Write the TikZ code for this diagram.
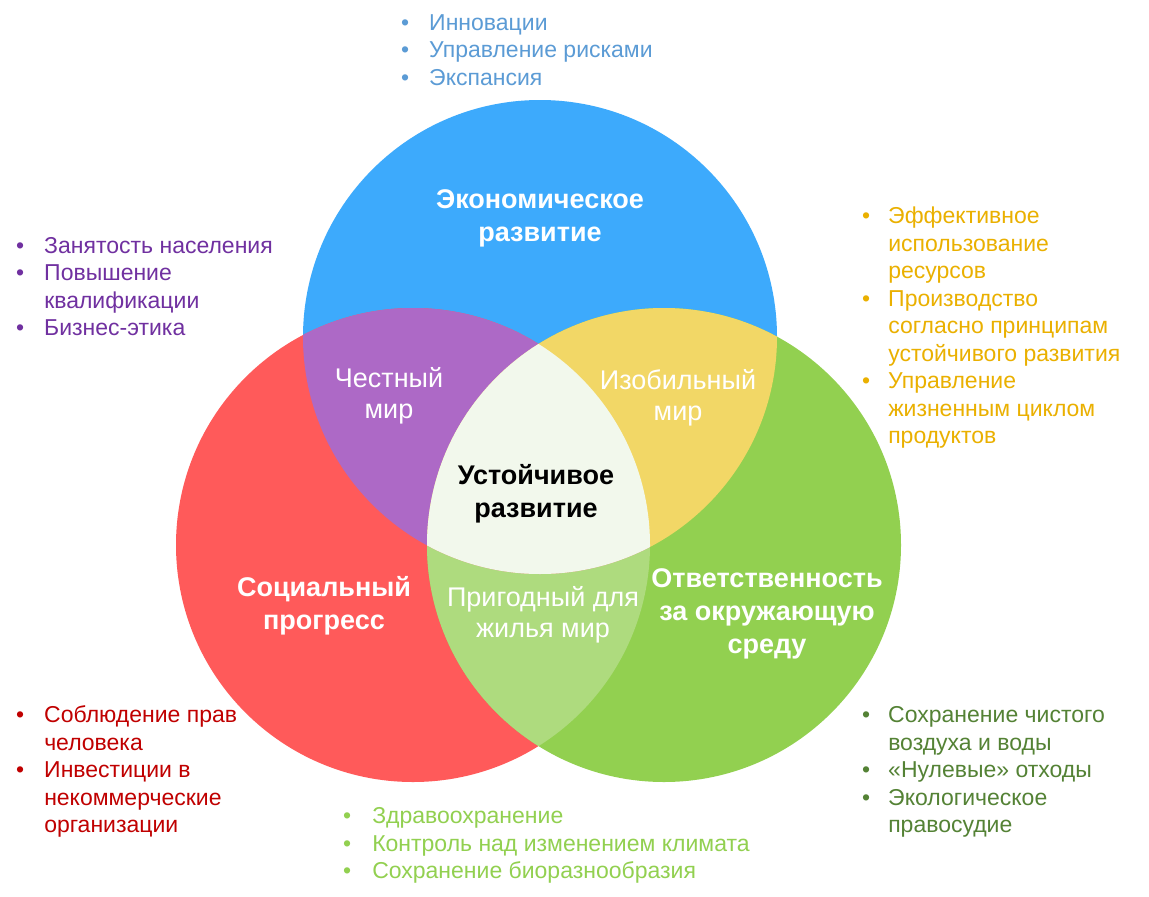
\documentclass[tikz,border=0pt]{standalone}
\usepackage{fontspec}
\setmainfont{Liberation Sans}
\usetikzlibrary{calc}

\definecolor{econ}{HTML}{3DAAFC}
\definecolor{soc}{HTML}{FF5A5A}
\definecolor{envr}{HTML}{92D050}
\definecolor{fair}{HTML}{AD69C6}
\definecolor{rich}{HTML}{F2D766}
\definecolor{live}{HTML}{AEDB7E}
\definecolor{core}{HTML}{F2F8EC}
\definecolor{txtblue}{HTML}{5B9BD5}
\definecolor{txtpurp}{HTML}{7030A0}
\definecolor{txtgold}{HTML}{EAB000}
\definecolor{txtred}{HTML}{C00000}
\definecolor{txtlgr}{HTML}{92D050}
\definecolor{txtdgr}{HTML}{548235}

\begin{document}
\begin{tikzpicture}[x=1pt, y=-1pt, line cap=round, line join=round,
    big/.style={font=\fontsize{27}{33}\selectfont\bfseries, text=white, align=center},
    mid/.style={font=\fontsize{27}{31}\selectfont, text=white, align=center},
    list/.style={font=\fontsize{23}{27.5}\selectfont, anchor=north west, inner sep=0pt}]
    \useasboundingbox[fill=white] (0,0) rectangle (1149,897);

    \coordinate (E) at (540,337);
    \coordinate (S) at (413,545);
    \coordinate (G) at (664,545);

    % the three circles
    \fill[econ] (E) circle[radius=237pt];
    \fill[soc]  (S) circle[radius=237pt];
    \fill[envr] (G) circle[radius=237pt];

    % overlaps
    \begin{scope}
        \clip (S) circle[radius=237pt];
        \fill[live] (G) circle[radius=237pt];
    \end{scope}
    \begin{scope}
        \clip (E) circle[radius=237pt];
        \fill[fair] (S) circle[radius=237pt];
        \fill[rich] (G) circle[radius=237pt];
        \clip (S) circle[radius=237pt];
        \fill[core] (G) circle[radius=237pt];
    \end{scope}

    % region labels
    \node[big] (econlbl) at (540,218) {Экономическое\\развитие};
    \node[big] (soclbl)  at (324,606) {Социальный\\прогресс};
    \node[big] (envlbl)  at (767,614) {Ответственность\\за окружающую\\среду};
    \node[big, text=black] (corelbl) at (536,494) {Устойчивое\\развитие};
    \node[mid] (fairlbl) at (389,396) {Честный\\мир};
    \node[mid] (richlbl) at (678,398) {Изобильный\\мир};
    \node[mid] (livelbl) at (543,615) {Пригодный для\\жилья мир};

    % lists
    \node[list, text=txtblue] (econlist) at (401,11) {%
        \begin{tabular}{@{}l@{\hspace{20pt}}l@{}}
        • & Инновации\\
        • & Управление рисками\\
        • & Экспансия
        \end{tabular}};
    \node[list, text=txtpurp] (fairlist) at (16,234) {%
        \begin{tabular}{@{}l@{\hspace{20pt}}l@{}}
        • & Занятость населения\\
        • & Повышение\\
          & квалификации\\
        • & Бизнес-этика
        \end{tabular}};
    \node[list, text=txtgold] (richlist) at (862,204.5) {%
        \begin{tabular}{@{}l@{\hspace{18pt}}l@{}}
        • & Эффективное\\
          & использование\\
          & ресурсов\\
        • & Производство\\
          & согласно принципам\\
          & устойчивого развития\\
        • & Управление\\
          & жизненным циклом\\
          & продуктов
        \end{tabular}};
    \node[list, text=txtred] (soclist) at (16,703.5) {%
        \begin{tabular}{@{}l@{\hspace{20pt}}l@{}}
        • & Соблюдение прав\\
          & человека\\
        • & Инвестиции в\\
          & некоммерческие\\
          & организации
        \end{tabular}};
    \node[list, text=txtlgr] (livelist) at (343,804.5) {%
        \begin{tabular}{@{}l@{\hspace{21pt}}l@{}}
        • & Здравоохранение\\
        • & Контроль над изменением климата\\
        • & Сохранение биоразнообразия
        \end{tabular}};
    \node[list, text=txtdgr] (envlist) at (862,703.5) {%
        \begin{tabular}{@{}l@{\hspace{18pt}}l@{}}
        • & Сохранение чистого\\
          & воздуха и воды\\
        • & «Нулевые» отходы\\
        • & Экологическое\\
          & правосудие
        \end{tabular}};
\end{tikzpicture}
\end{document}
